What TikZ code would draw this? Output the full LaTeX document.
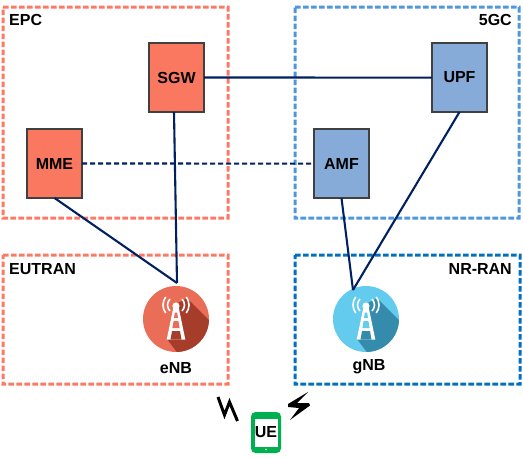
\documentclass[tikz,border=0pt]{standalone}
\usepackage{fontspec}
\setmainfont{Liberation Sans}
\usetikzlibrary{calc}
\definecolor{regred}{HTML}{FC7A65}
\definecolor{regblue}{HTML}{4F96E0}
\definecolor{regdeep}{HTML}{0070C0}
\definecolor{boxred}{HTML}{FA7860}
\definecolor{boxblue}{HTML}{86ABD9}
\definecolor{edge}{HTML}{404040}
\definecolor{wire}{HTML}{002060}
\definecolor{enbfill}{HTML}{E96D57}
\definecolor{enbshade}{HTML}{A63D2B}
\definecolor{gnbfill}{HTML}{63CBEE}
\definecolor{gnbshade}{HTML}{358BAB}
\definecolor{uegreen}{HTML}{00B050}
\tikzset{
  region/.style={inner sep=0pt,outer sep=0pt},
  regline/.style={draw=#1,line width=3pt,dash pattern=on 5.6pt off 2.4pt},
  func/.style={draw=edge,line width=2.2pt,fill=#1,minimum width=55pt,minimum height=69pt,inner sep=0pt,outer sep=0pt,font=\lab},
  lab/.style={inner sep=0pt,font=\lab,text=black},
  wireline/.style={draw=wire,line width=2.1pt},
  wiredash/.style={wireline,dash pattern=on 5.2pt off 2.8pt},
  disc/.style={circle,fill=#1,minimum size=66pt,inner sep=0pt,outer sep=0pt},
  bolt/.style={draw=black,line width=3pt,line join=miter},
}
\newcommand{\lab}{\fontsize{16}{18}\selectfont\bfseries}
% dashed outline with a hair of tilt so that each side is stroked at full width
\newcommand{\regionoutline}[2]{%
  \draw[regline=#2] (#1.north west) -- ($(#1.north east)+(0,0.1)$) -- ($(#1.south east)+(0.1,0)$) -- ($(#1.south west)+(0,0.1)$) -- ($(#1.north west)+(0.1,0)$);}
\newcommand{\towericon}[3]{%
  \begin{scope}[shift={(#1)}]
    \begin{scope}
      \clip (0,0) circle (33);
      \fill[#2] (11,-21) -- (40,8) -- (40,40) -- (6,40) -- (-9,20) -- (-3,-10) -- (2,-16) -- cycle;
    \end{scope}
    \fill[white] (-2.6,-12) -- (2.6,-12) -- (9.3,20.5) -- (-9.3,20.5) -- cycle;
    \fill[#3] (-1.1,-6.5) -- (1.1,-6.5) -- (2,-1) -- (-2,-1) -- cycle;
    \fill[#3] (-2.4,2) -- (2.4,2) -- (3.6,9) -- (-3.6,9) -- cycle;
    \fill[#2] (-4,12) -- (4,12) -- (5.5,20.6) -- (-5.5,20.6) -- cycle;
    \fill[white] (0,-13) circle (3.6);
    \draw[white,line width=1.6pt] (0,-14) ++(135:8.5) arc (135:225:8.5);
    \draw[white,line width=1.6pt] (0,-14) ++(45:8.5) arc (45:-45:8.5);
    \draw[white,line width=1.6pt] (0,-14) ++(142:13) arc (142:218:13);
    \draw[white,line width=1.6pt] (0,-14) ++(38:13) arc (38:-38:13);
  \end{scope}}
\begin{document}
\begin{tikzpicture}[x=1pt,y=-1pt]
\useasboundingbox (0,0) rectangle (523,458);
\node[region,minimum width=225pt,minimum height=211pt] (epc) at (115.5,112.5) {};
\node[region,minimum width=224pt,minimum height=211pt] (fivegc) at (407,112.5) {};
\node[region,minimum width=225pt,minimum height=129pt] (eutran) at (115.5,319.5) {};
\node[region,minimum width=225pt,minimum height=129pt] (nrran) at (407.5,319.5) {};
\regionoutline{epc}{regred}
\regionoutline{fivegc}{regblue}
\regionoutline{eutran}{regred}
\regionoutline{nrran}{regdeep}
\node[lab,anchor=west] (epclab) at (9,20) {EPC};
\node[lab,anchor=east] (gclab) at (512,20) {5GC};
\node[lab,anchor=west] (eulab) at (9,269) {EUTRAN};
\node[lab,anchor=east] (nrlab) at (512,269) {NR-RAN};
\node[func=boxred] (sgw) at (176.5,77.5) {SGW};
\node[func=boxred] (mme) at (54.5,163.5) {MME};
\node[func=boxblue] (upf) at (459.5,77.5) {UPF};
\node[func=boxblue] (amf) at (341.5,163.5) {AMF};
\node[disc=enbfill] (enb) at (176,319) {};
\node[disc=gnbfill] (gnb) at (366,319) {};
\towericon{enb}{enbshade}{enbfill}
\towericon{gnb}{gnbshade}{gnbfill}
\coordinate (enbtop) at (177,283);
\coordinate (gnbtop) at (353,290);
\draw[wireline] (sgw.east) -- ($(upf.west)+(0,0.1)$);
\draw[wiredash] (mme.east) -- ($(amf.west)+(0,0.1)$);
\draw[wireline] ($(sgw.south)+(-2.5,0)$) -- (enbtop);
\draw[wireline] (mme.south) -- (enbtop);
\draw[wireline] (amf.south) -- (gnbtop);
\draw[wireline] (upf.south) -- (gnbtop);
\node[lab] (enblab) at (176,368.5) {eNB};
\node[lab] (gnblab) at (369,366.5) {gNB};
\draw[bolt] (218,397) -- (224.5,415) -- (229.5,402) -- (237.5,421);
\fill[black] (308,392) -- (288,404) -- (288,407) -- (299,408) -- (290,420) -- (310,405.5) -- (309,403) -- (297,403) -- cycle;
\node[fill=uegreen,rounded corners=4.5pt,minimum width=30pt,minimum height=41pt,inner sep=0pt] (ue) at (266,432.5) {};
\node[fill=white,minimum width=23pt,minimum height=28pt,inner sep=0pt,font=\lab] (uescreen) at (266,432.5) {UE};
\node[circle,fill=white,minimum size=1.8pt,inner sep=0pt] (uebutton) at (266,449.5) {};
\end{tikzpicture}
\end{document}
